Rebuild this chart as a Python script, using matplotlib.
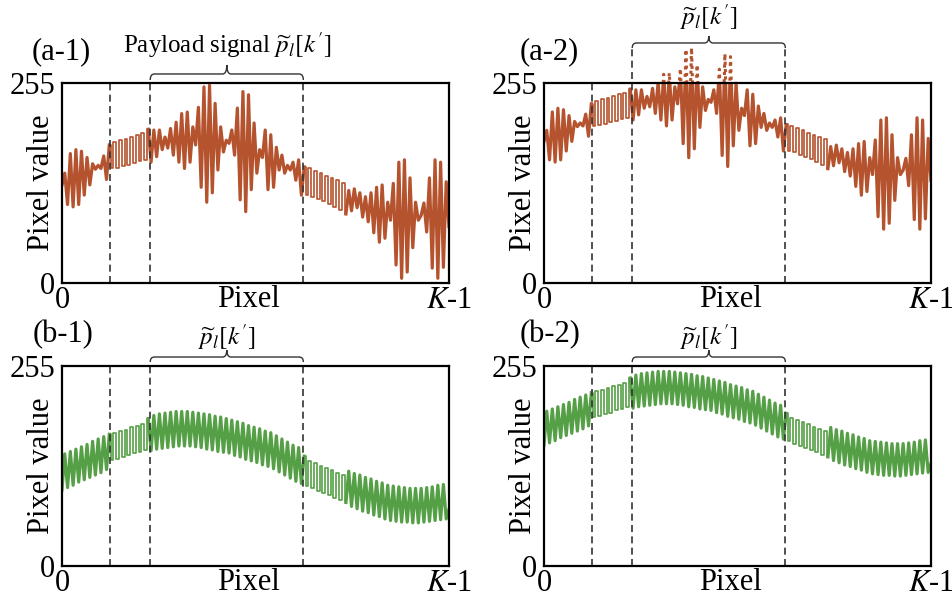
import numpy as np
import matplotlib.pyplot as plt
import matplotlib.transforms as mtransforms
from matplotlib.path import Path
from matplotlib.patches import PathPatch, Rectangle

plt.rcParams['font.family'] = ['Liberation Serif', 'DejaVu Serif']
plt.rcParams['mathtext.fontset'] = 'stix'

# one scan line, K pixels
K = 140
pixel = np.arange(K)

# (a-1): original scan line with payload bursts
a1_line = [125, 140, 100, 165, 97, 170, 100, 168, 112, 160, 125, 152, 145, 150, 146, 162, 132, 176,
           146, 180, 147, 182, 149, 184, 151, 186, 153, 189, 155, 191, 157, 196,
           154, 195, 161, 195, 170, 186, 172, 197, 163, 205, 154, 216, 146, 218, 154, 199, 176, 224,
           122, 250, 103, 252, 115, 229, 144, 199, 167, 182, 178, 195, 163, 223, 106, 244, 91, 240,
           119, 204, 140, 170, 160, 195, 119, 189, 122, 173, 144, 163, 140, 150, 144, 154, 131, 157,
           112, 148,
           112, 146, 110, 143, 107, 140, 104, 137, 101, 134, 97, 131, 93, 128, 88,
           118, 92, 120, 96, 115, 84, 110, 78, 115, 64, 122, 52, 125, 57, 103, 80, 127, 23, 154, 6,
           157, 14, 134, 45, 103, 80, 86, 102, 65, 134, 19, 157, 6, 154, 20, 129, 72]

# (b-1): smooth scan line with payload
b1_line = [97, 143, 100, 146, 103, 149, 107, 152, 110, 155, 113, 159, 116, 162, 119, 165, 123, 168,
           135, 170, 137, 172, 139, 174, 141, 177, 144, 179, 146, 181, 148, 188,
           147, 192, 149, 194, 150, 195, 151, 196, 152, 197, 153, 197, 153, 197, 153, 196, 152, 195,
           151, 194, 149, 193, 148, 191, 146, 190, 145, 188, 144, 186, 141, 184, 139, 182, 136, 179,
           134, 177, 132, 175, 129, 172, 127, 170, 124, 166, 120, 162, 116, 158, 112, 154, 108, 151,
           105, 140,
           102, 134, 99, 131, 96, 128, 93, 125, 90, 122, 87, 119, 84, 116, 81,
           121, 76, 118, 73, 116, 70, 113, 68, 111, 65, 108, 63, 106, 60, 103, 58, 102, 57, 101, 56,
           100, 56, 99, 55, 99, 55, 99, 56, 100, 57, 101, 58, 103, 59, 104, 60, 72]

# right column = same lines after the brightness change
gain = 0.94
offset = 63

# segments: signal / square-wave header / payload / square-wave / signal
seg_edges = [0, 17, 31, 87, 102, K - 1]
square_seg = [False, True, False, True, False]
dashed_x = [17.3, 31.7, 86.7]

orange = '#b5532f'
green = '#55a046'
dash_col = '#333333'


def brace(ax, x0, x1, y_end, y_mid, y_tip):
    tr = mtransforms.blended_transform_factory(ax.transData, ax.transAxes)
    xc = (x0 + x1) / 2
    r = 1.5
    verts = [(x0, y_end), (x0, y_mid), (x0 + r, y_mid),
             (xc - r, y_mid), (xc, y_mid), (xc, y_tip),
             (xc, y_mid), (xc + r, y_mid),
             (x1 - r, y_mid), (x1, y_mid), (x1, y_end)]
    codes = [Path.MOVETO, Path.CURVE3, Path.CURVE3, Path.LINETO, Path.CURVE3, Path.CURVE3,
             Path.CURVE3, Path.CURVE3, Path.LINETO, Path.CURVE3, Path.CURVE3]
    ax.add_patch(PathPatch(Path(verts, codes), transform=tr, fill=False,
                           lw=1.0, ec=dash_col, clip_on=False))


def panel(rect, y, color, tag, tag_x, br, label, label_y, overflow=False):
    ax = fig.add_axes(rect)
    y = np.asarray(y, dtype=float)
    for (s, e), sq in zip(zip(seg_edges[:-1], seg_edges[1:]), square_seg):
        if sq:
            ax.plot(pixel[s:e + 1], y[s:e + 1], color=color, lw=1.2,
                    drawstyle='steps-mid')
        else:
            ax.plot(pixel[s:e + 1], y[s:e + 1], color=color, lw=2.3)
    if overflow:
        # values above 255 shown dotted outside the frame
        ln, = ax.plot(pixel, y, color=color, lw=2.2, ls=(0, (1.0, 1.4)),
                      dash_capstyle='butt')
        ln.set_clip_path(Rectangle((0, 1), 1, 1, transform=ax.transAxes))

    tr = mtransforms.blended_transform_factory(ax.transData, ax.transAxes)
    tops = [1, br[0], br[0]]
    for x, t in zip(dashed_x, tops):
        ax.plot([x, x], [0, t], transform=tr, color=dash_col, lw=1.2,
                ls=(0, (4.2, 2.6)), clip_on=False)
    brace(ax, dashed_x[1], dashed_x[2], *br)
    ax.text((dashed_x[1] + dashed_x[2]) / 2, label_y, label, transform=tr,
            ha='center', va='center', fontsize=18)

    ax.set_xlim(0, K - 1)
    ax.set_ylim(0, 255)
    ax.set_xticks([0, K - 1])
    ax.set_xticklabels(['0', '$K$-1'])
    ax.set_yticks([0, 255])
    ax.tick_params(length=0, labelsize=22)
    ax.tick_params(axis='y', pad=5)
    ax.tick_params(axis='x', pad=2)
    for sp in ax.spines.values():
        sp.set_linewidth(1.6)
    ax.text(-0.053, 0.5, 'Pixel value', transform=ax.transAxes, rotation=90,
            ha='center', va='center', fontsize=22)
    ax.text(0.483, -0.12, 'Pixel', transform=ax.transAxes,
            ha='center', va='baseline', fontsize=22)
    ax.text(tag_x, 1.155, tag, transform=ax.transAxes, ha='left', va='center',
            fontsize=22)
    return ax


fig = plt.figure(figsize=(9.52, 5.97), dpi=100)

payload = r'$\widetilde{p}_{l}[k^{\prime}]$'
a2_line = np.asarray(a1_line) * gain + offset
b2_line = np.asarray(b1_line) * gain + offset

panel([0.0651, 0.526, 0.4065, 0.335], a1_line, orange, '(a-1)', -0.078,
      (1.015, 1.045, 1.09), 'Payload signal ' + payload, 1.19)
panel([0.5714, 0.526, 0.4065, 0.335], a2_line, orange, '(a-2)', -0.062,
      (1.175, 1.20, 1.235), payload, 1.33, overflow=True)
panel([0.0651, 0.0519, 0.4065, 0.335], b1_line, green, '(b-1)', -0.076,
      (1.02, 1.045, 1.08), payload, 1.145)
panel([0.5714, 0.0519, 0.4065, 0.335], b2_line, green, '(b-2)', -0.062,
      (1.02, 1.045, 1.08), payload, 1.145)

fig.savefig('out.png', dpi=100)
